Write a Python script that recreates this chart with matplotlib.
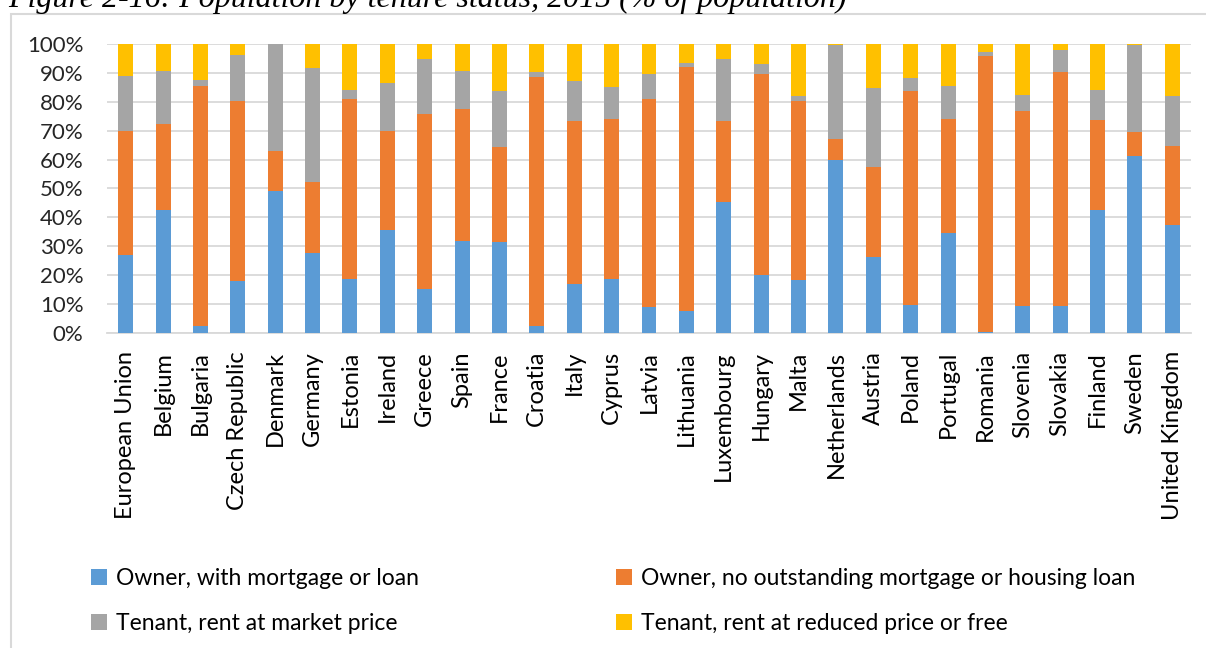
import matplotlib
matplotlib.use("Agg")
import matplotlib.pyplot as plt
import numpy as np
from matplotlib.patches import Rectangle

plt.rcParams['font.family'] = ['Lato', 'DejaVu Sans']

countries = ["European Union", "Belgium", "Bulgaria", "Czech Republic", "Denmark",
             "Germany", "Estonia", "Ireland", "Greece", "Spain", "France", "Croatia",
             "Italy", "Cyprus", "Latvia", "Lithuania", "Luxembourg", "Hungary", "Malta",
             "Netherlands", "Austria", "Poland", "Portugal", "Romania", "Slovenia",
             "Slovakia", "Finland", "Sweden", "United Kingdom"]

# shares in % of population
owner_mortgage = [27.1, 42.6, 2.3, 17.9, 49.2, 27.6, 18.7, 35.6, 15.2, 31.9, 31.6, 2.3,
                  16.9, 18.7, 9.0, 7.6, 45.3, 20.0, 18.2, 59.9, 26.2, 9.8, 34.7, 0.5,
                  9.4, 9.4, 42.6, 61.2, 37.3]
owner_no_mortgage = [42.9, 29.6, 83.2, 62.4, 13.8, 24.7, 62.3, 34.4, 60.6, 45.6, 32.7, 86.3,
                     56.3, 55.3, 72.1, 84.6, 27.9, 69.6, 62.1, 7.2, 31.1, 74.0, 39.4, 95.2,
                     67.3, 81.0, 31.0, 8.5, 27.4]
tenant_market = [19.1, 18.6, 2.2, 15.9, 37.0, 39.4, 3.2, 16.4, 19.0, 13.3, 19.5, 1.8,
                 14.1, 11.0, 8.4, 1.3, 21.6, 3.5, 1.7, 32.6, 27.4, 4.4, 11.5, 1.4,
                 5.8, 7.5, 10.6, 30.0, 17.3]
tenant_reduced = [10.9, 9.2, 12.3, 3.8, 0.0, 8.3, 15.8, 13.6, 5.2, 9.2, 16.2, 9.6,
                  12.7, 15.0, 10.5, 6.5, 5.2, 6.9, 18.0, 0.3, 15.3, 11.8, 14.4, 2.9,
                  17.5, 2.1, 15.8, 0.3, 18.0]

series = [("Owner, with mortgage or loan", owner_mortgage, "#5B9BD5"),
          ("Owner, no outstanding mortgage or housing loan", owner_no_mortgage, "#ED7D31"),
          ("Tenant, rent at market price", tenant_market, "#A5A5A5"),
          ("Tenant, rent at reduced price or free", tenant_reduced, "#FFC000")]

W, H = 1206, 648
fig = plt.figure(figsize=(W / 100, H / 100), dpi=100)
ax = fig.add_axes([107 / W, 1 - 333 / H, (1191 - 107) / W, (333 - 44) / H])

x = np.arange(len(countries))
bottom = np.zeros(len(countries))
for name, vals, col in series:
    v = np.array(vals) / 100
    ax.bar(x, v, 0.4, bottom=bottom, color=col, label=name, zorder=3)
    bottom += v

ax.set_xlim(-0.5, len(countries) - 0.5)
ax.set_ylim(0, 1)
yt = np.arange(0, 1.01, 0.1)
ax.set_yticks(yt)
ax.set_yticklabels([f"{int(round(t * 100))}%" for t in yt])
ax.set_xticks(x)
ax.set_xticklabels(countries, rotation=90)
ax.tick_params(axis='y', length=0, pad=17, labelsize=16, labelcolor="#262626")
ax.tick_params(axis='x', length=0, pad=13, labelsize=17, labelcolor="#000000")
ax.grid(axis='y', color="#d9d9d9", linewidth=1.3, zorder=0)
for s in ['top', 'right', 'left']:
    ax.spines[s].set_visible(False)
ax.spines['bottom'].set_color("#d9d9d9")
ax.spines['bottom'].set_linewidth(1.3)

# chart frame
fig.patches.append(Rectangle((11 / W, -0.1), 1.1, 1 - 14 / H + 0.1,
                             transform=fig.transFigure, fill=False,
                             edgecolor="#d9d9d9", linewidth=1.5))

fig.text(8 / W, 1 - 7 / H, "Figure 2-16: Population by tenure status, 2015 (% of population)",
         family="Liberation Serif", style="italic", fontsize=23, va="baseline", ha="left")

# legend filled row by row like the original
handles, labels = ax.get_legend_handles_labels()
order = [0, 2, 1, 3]
fig.legend([handles[i] for i in order], [labels[i] for i in order], ncol=2,
           loc="upper left", bbox_to_anchor=(70 / W, 1 - 547 / H),
           frameon=False, fontsize=16.5, handlelength=0.7, handleheight=0.7,
           handletextpad=0.4, columnspacing=8.6, labelspacing=1.08)

fig.savefig("out.png", dpi=100)
